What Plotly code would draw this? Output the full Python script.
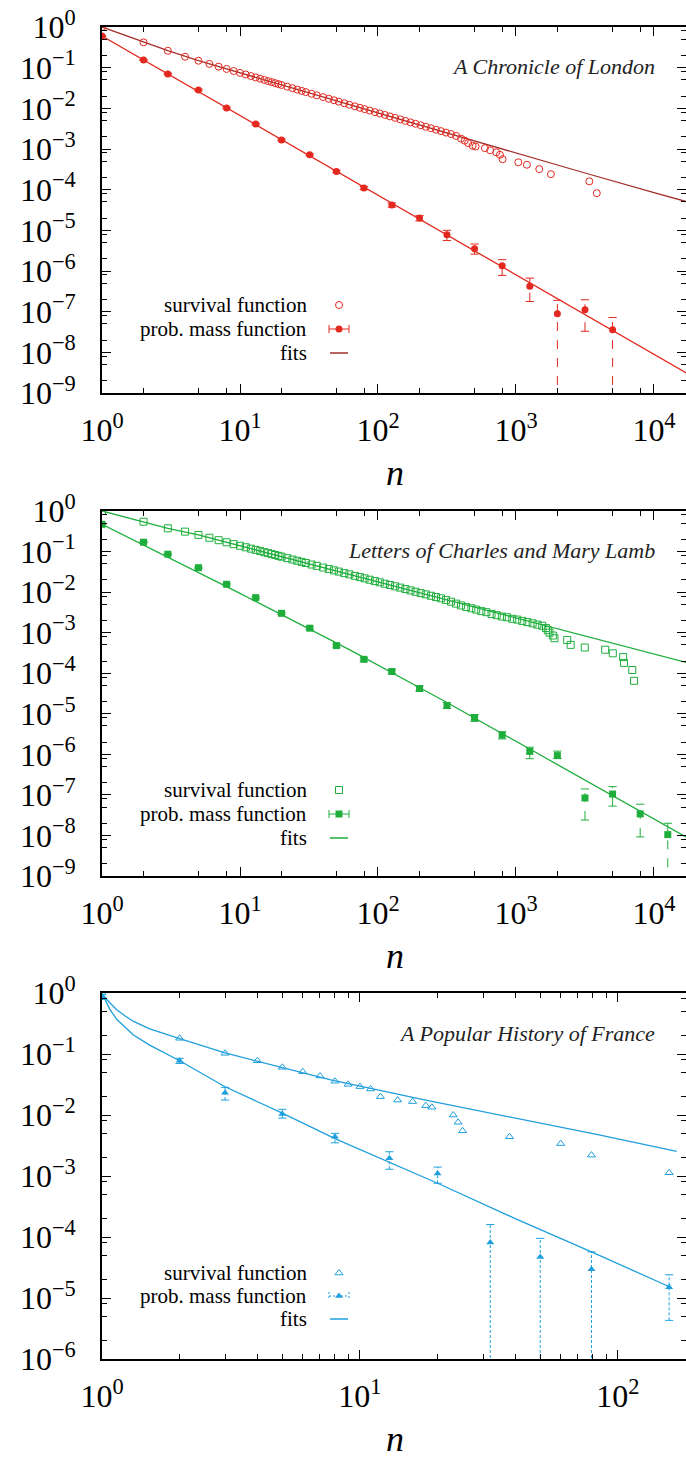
import plotly.graph_objects as go

W, H = 686, 1458

# ---------------- Panel 1 : A Chronicle of London ----------------
p1_surv_n = [1, 2, 3, 4, 5, 6, 7, 8, 9, 10, 11, 12, 13, 14, 15, 16, 17, 18, 19, 20,
             22, 24, 26, 28, 30, 33, 36, 40, 44, 48, 52, 57, 62, 68, 74, 80, 87, 95,
             103, 112, 122, 133, 145, 158, 172, 187, 204, 222, 242, 263, 286, 311,
             338, 368, 400, 425, 450, 485, 510, 595, 650, 720, 765, 800, 1040, 1200,
             1475, 1790, 3400, 3850]
p1_surv_s = [1.0, 0.42, 0.26, 0.186, 0.148, 0.1236, 0.106, 0.093, 0.0828, 0.0745,
             0.068, 0.0622, 0.0575, 0.0535, 0.0499, 0.0468, 0.0441, 0.0417, 0.0394,
             0.0375, 0.0341, 0.0313, 0.0289, 0.0269, 0.0251, 0.0228, 0.0209, 0.0189,
             0.0172, 0.0158, 0.0146, 0.0133, 0.01225, 0.0112, 0.0103, 0.00955, 0.0088,
             0.00807, 0.00746, 0.00689, 0.00633, 0.00582, 0.00535, 0.00491, 0.00452,
             0.00417, 0.00383, 0.00352, 0.00324, 0.00299, 0.00275, 0.00253, 0.00233,
             0.00210, 0.0018, 0.0016, 0.0014, 0.0012, 0.00115, 0.00105, 0.00093,
             0.00083, 0.00072, 0.00056, 0.00047, 0.00041, 0.00032, 0.00024, 0.00016,
             0.000082]
p1_pmf_n = [1, 2, 3, 5, 8, 13, 20, 32, 50, 79, 126, 200, 316, 501, 794, 1259, 1995,
            3162, 5012]
p1_pmf_p = [0.6, 0.155, 0.07, 0.0283, 0.0102, 0.0041, 0.00166, 7.2e-4, 2.8e-4, 1.1e-4,
            4.2e-5, 2.0e-5, 7.8e-6, 3.5e-6, 1.35e-6, 4.2e-7, 8.9e-8, 1.12e-7, 3.6e-8]
p1_pmf_lo = [0.59, 0.150, 0.067, 0.027, 0.0097, 0.0039, 0.00157, 6.8e-4, 2.6e-4, 1.0e-4,
             3.7e-5, 1.7e-5, 5.6e-6, 2.6e-6, 7.8e-7, 1.78e-7, 0, 3.3e-8, 0]
p1_pmf_hi = [0.61, 0.160, 0.073, 0.0296, 0.0107, 0.0043, 0.00175, 7.6e-4, 3.0e-4, 1.2e-4,
             4.7e-5, 2.3e-5, 1.0e-5, 4.6e-6, 1.9e-6, 6.7e-7, 1.9e-7, 1.96e-7, 7.2e-8]
p1_fit_surv_n = [1, 2, 3, 5, 10, 31.6, 100, 316, 1000, 3162, 10000, 20000]
p1_fit_surv_s = [1.0, 0.42, 0.263, 0.148, 0.0745, 0.0238, 0.00762, 0.00244, 7.8e-4,
                 2.57e-4, 8.5e-5, 4.4e-5]
p1_fit_pmf_n = [1, 10, 100, 1000, 10000, 20000]
p1_fit_pmf_p = [0.6, 6.65e-3, 7.35e-5, 8.1e-7, 8.95e-9, 2.3e-9]

# ---------------- Panel 2 : Letters of Charles and Mary Lamb ----------------
p2_surv_n = [1, 2, 3, 4, 5, 6, 7, 8, 9, 10, 11, 12, 13, 14, 15, 16, 17, 18, 19, 20,
             22, 24, 26, 28, 30, 33, 36, 40, 44, 48, 52, 57, 62, 68, 74, 80, 87, 95,
             103, 112, 122, 133, 145, 158, 172, 187, 204, 222, 242, 263, 286, 311,
             338, 368, 400, 435, 475, 515, 560, 610, 665, 725, 790, 860, 940, 1020,
             1110, 1210, 1320, 1430, 1550, 1650, 1700, 1750, 1850, 1900, 2350, 2490,
             3150, 4430, 5030, 5980, 6060, 6960, 7170]
p2_surv_s = [1.0, 0.545, 0.374, 0.31, 0.257, 0.219, 0.1905, 0.169, 0.1524, 0.1387,
             0.1276, 0.118, 0.1099, 0.1028, 0.0966, 0.0914, 0.0865, 0.0822, 0.0783,
             0.0748, 0.0689, 0.0637, 0.0593, 0.0555, 0.0522, 0.0479, 0.0444, 0.0404,
             0.0372, 0.0344, 0.032, 0.0294, 0.0274, 0.0252, 0.0234, 0.0218, 0.0202,
             0.0187, 0.0174, 0.0161, 0.015, 0.0139, 0.0129, 0.0119, 0.0110, 0.0102,
             0.00946, 0.00879, 0.00813, 0.00755, 0.00701, 0.0064, 0.0058, 0.0052,
             0.0047, 0.0043, 0.0040, 0.0037, 0.0034, 0.0032, 0.0029, 0.0027, 0.0025,
             0.0024, 0.0022, 0.0021, 0.00195, 0.00182, 0.00170, 0.00158, 0.00148,
             0.0013, 0.00115, 0.0010, 0.00085, 0.00073, 0.00066, 0.0005, 0.00043,
             0.00038, 0.00031, 0.00025, 0.00018, 0.00012, 0.000065]
p2_pmf_n = [1, 2, 3, 5, 8, 13, 20, 32, 50, 79, 126, 200, 316, 501, 794, 1259, 1995,
            3162, 5012, 7943, 12589]
p2_pmf_p = [0.47, 0.17, 0.086, 0.040, 0.0156, 0.0073, 0.003, 0.00129, 4.8e-4, 2.2e-4,
            1.1e-4, 4.2e-5, 1.6e-5, 8.0e-6, 3.0e-6, 1.18e-6, 9.3e-7, 8.4e-8, 1.05e-7,
            3.4e-8, 1.05e-8]
p2_pmf_lo = [0.46, 0.165, 0.083, 0.0385, 0.015, 0.0069, 0.00283, 1.2e-3, 4.4e-4, 2.0e-4,
             9.8e-5, 3.6e-5, 1.35e-5, 6.5e-6, 2.4e-6, 7.8e-7, 7.9e-7, 2.4e-8, 5.3e-8,
             9.2e-9, 0]
p2_pmf_hi = [0.48, 0.175, 0.089, 0.0415, 0.0162, 0.0077, 0.00318, 1.38e-3, 5.2e-4, 2.4e-4,
             1.22e-4, 4.8e-5, 1.9e-5, 9.6e-6, 3.6e-6, 1.5e-6, 1.2e-6, 1.4e-7, 1.6e-7,
             5.9e-8, 2.0e-8]
p2_fit_surv_n = [1, 2, 3, 5, 10, 100, 1000, 10000, 20000]
p2_fit_surv_s = [1.0, 0.546, 0.374, 0.257, 0.1387, 0.01786, 0.0023, 2.96e-4, 1.6e-4]
p2_fit_pmf_n = [1, 10, 63, 316, 1259, 3162, 20000]
p2_fit_pmf_p = [0.468, 9.3e-3, 3.7e-4, 1.9e-5, 1.35e-6, 2.3e-7, 6.8e-9]

# ---------------- Panel 3 : A Popular History of France ----------------
p3_surv_n = [1, 2, 3, 4, 5, 6, 7, 8, 9, 10, 11, 12, 14, 16, 18, 19, 23, 24, 25, 38, 60,
             79, 158]
p3_surv_s = [1.0, 0.181, 0.1026, 0.0776, 0.0605, 0.0513, 0.0436, 0.0358, 0.0318, 0.0292,
             0.0267, 0.020, 0.0176, 0.0166, 0.01425, 0.0134, 0.010, 0.0076, 0.0055,
             0.0044, 0.0034, 0.0022, 0.00113]
p3_pmf_n = [1, 2, 3, 5, 8, 13, 20, 32, 50, 79, 158]
p3_pmf_p = [0.82, 0.0776, 0.0232, 0.0104, 0.00441, 0.00195, 0.0011, 8.1e-5, 4.7e-5,
            2.95e-5, 1.5e-5]
p3_pmf_lo = [0.80, 0.070, 0.0176, 0.0089, 0.0035, 0.00129, 7.6e-4, 0, 0, 0, 4.3e-6]
p3_pmf_hi = [0.84, 0.085, 0.0284, 0.0124, 0.0050, 0.0025, 0.0014, 1.6e-4, 9.5e-5,
             5.7e-5, 2.4e-5]
p3_fit_surv_n = [1, 1.03, 1.07, 1.14, 1.23, 1.32, 1.53, 1.78, 2, 3, 5, 7.7, 17.6, 38,
                 82.7, 169]
p3_fit_surv_s = [1.0, 0.83, 0.7, 0.53, 0.42, 0.345, 0.258, 0.206, 0.178, 0.104, 0.0605,
                 0.0375, 0.0178, 0.0093, 0.0048, 0.00254]
p3_fit_pmf_n = [1, 1.03, 1.07, 1.14, 1.23, 1.32, 1.53, 1.78, 2, 3, 5, 8, 20, 40, 79, 160]
p3_fit_pmf_p = [1.0, 0.75, 0.55, 0.37, 0.27, 0.207, 0.14, 0.1, 0.0776, 0.029, 0.0107,
                0.0041, 7.6e-4, 2.0e-4, 5.7e-5, 1.5e-5]

titles = ["A Chronicle of London", "Letters of Charles and Mary Lamb",
          "A Popular History of France"]
legend_labels = ["survival function", "prob. mass function", "fits"]

# ---------------- styling / layout constants ----------------
RED, DRED = "#e3281f", "#a3302b"
GREEN = "#1fae3c"
BLUE = "#1f9fdc"
FONT = "Liberation Serif"

LEFT_PX = 102
panels_px = [(27, 393), (511, 876), (993, 1359)]   # (top, bottom) pixel rows
xr = [[0, 4.232], [0, 4.232], [0, 2.264]]
yr = [[-9, 0], [-9, 0], [-6, 0]]


def dec_label(k):
    s = str(k) if k >= 0 else "\u2212" + str(-k)
    return "10<sup>" + s + "</sup>"


fig = go.Figure()


def add_panel(i, surv_n, surv_s, pmf_n, pmf_p, lo, hi, fs_n, fs_s, fp_n, fp_p,
              col, fitcol_s, sym_s, sym_p, dash_err, capd):
    xa = "x" if i == 0 else "x%d" % (i + 1)
    ya = "y" if i == 0 else "y%d" % (i + 1)
    fig.add_trace(go.Scatter(x=fs_n, y=fs_s, mode="lines", line=dict(color=fitcol_s, width=1.3),
                             xaxis=xa, yaxis=ya, showlegend=False, hoverinfo="skip"))
    fig.add_trace(go.Scatter(x=fp_n, y=fp_p, mode="lines", line=dict(color=col, width=1.3),
                             xaxis=xa, yaxis=ya, showlegend=False, hoverinfo="skip"))
    ex, ey, cx, cy = [], [], [], []
    f = 10 ** capd
    for n, l, h in zip(pmf_n, lo, hi):
        lv = l if l > 0 else 1e-15
        ex += [n, n, None]
        ey += [lv, h, None]
        cx += [n / f, n * f, None]
        cy += [h, h, None]
        if l > 0:
            cx += [n / f, n * f, None]
            cy += [l, l, None]
    fig.add_trace(go.Scatter(x=ex, y=ey, mode="lines", line=dict(color=col, width=1, dash=dash_err),
                             xaxis=xa, yaxis=ya, showlegend=False, hoverinfo="skip",
                             connectgaps=False))
    fig.add_trace(go.Scatter(x=cx, y=cy, mode="lines", line=dict(color=col, width=1),
                             xaxis=xa, yaxis=ya, showlegend=False, hoverinfo="skip",
                             connectgaps=False))
    fig.add_trace(go.Scatter(x=surv_n, y=surv_s, mode="markers",
                             marker=dict(symbol=sym_s, size=7, color=col, line=dict(width=1, color=col)),
                             xaxis=xa, yaxis=ya, showlegend=False))
    fig.add_trace(go.Scatter(x=pmf_n, y=pmf_p, mode="markers",
                             marker=dict(symbol=sym_p, size=7, color=col),
                             xaxis=xa, yaxis=ya, showlegend=False))


add_panel(0, p1_surv_n, p1_surv_s, p1_pmf_n, p1_pmf_p, p1_pmf_lo, p1_pmf_hi,
          p1_fit_surv_n, p1_fit_surv_s, p1_fit_pmf_n, p1_fit_pmf_p,
          RED, DRED, "circle-open", "circle", "dash", 0.03)
add_panel(1, p2_surv_n, p2_surv_s, p2_pmf_n, p2_pmf_p, p2_pmf_lo, p2_pmf_hi,
          p2_fit_surv_n, p2_fit_surv_s, p2_fit_pmf_n, p2_fit_pmf_p,
          GREEN, GREEN, "square-open", "square", "dash", 0.03)
add_panel(2, p3_surv_n, p3_surv_s, p3_pmf_n, p3_pmf_p, p3_pmf_lo, p3_pmf_hi,
          p3_fit_surv_n, p3_fit_surv_s, p3_fit_pmf_n, p3_fit_pmf_p,
          BLUE, BLUE, "triangle-up-open", "triangle-up", "3px,2px", 0.016)

layout = dict(width=W, height=H, margin=dict(l=0, r=0, t=0, b=0, autoexpand=False),
              paper_bgcolor="white", plot_bgcolor="rgba(0,0,0,0)", showlegend=False)

for i in range(3):
    top, bot = panels_px[i]
    xk = "xaxis" if i == 0 else "xaxis%d" % (i + 1)
    yk = "yaxis" if i == 0 else "yaxis%d" % (i + 1)
    ylab = "y" if i == 0 else "y%d" % (i + 1)
    xlab = "x" if i == 0 else "x%d" % (i + 1)
    nx = 5 if i < 2 else 3
    xmaj = [10 ** k for k in range(nx)]
    if i < 2:
        xmin = [m * 10 ** k for k in range(nx) for m in (2, 5, 8)]
    else:
        xmin = [m * 10 ** k for k in range(nx) for m in range(2, 10)]
    ny = -yr[i][0]
    ymaj = [10.0 ** (-k) for k in range(ny + 1)]
    ymin = [m * 10.0 ** (-k) for k in range(1, ny + 1) for m in (2, 5, 8)]
    layout[xk] = dict(type="log", range=xr[i], domain=[LEFT_PX / W, 1], anchor=ylab,
                      automargin=False,
                      showline=True, linecolor="black", linewidth=1.6, mirror="ticks",
                      ticks="inside", ticklen=9, tickwidth=1, tickcolor="black",
                      tickmode="array", tickvals=xmaj, ticktext=[dec_label(k) for k in range(nx)],
                      tickfont=dict(family=FONT, size=32, color="black"),
                      ticklabelstandoff=8,
                      minor=dict(tickmode="array", tickvals=xmin, ticks="inside", ticklen=5,
                                 tickwidth=1, tickcolor="black", showgrid=False),
                      showgrid=False, zeroline=False)
    layout[yk] = dict(type="log", range=yr[i], domain=[1 - bot / H, 1 - top / H], anchor=xlab,
                      automargin=False,
                      showline=True, linecolor="black", linewidth=1.6, mirror="ticks",
                      ticks="inside", ticklen=9, tickwidth=1, tickcolor="black",
                      tickmode="array", tickvals=ymaj, ticktext=[dec_label(-k) for k in range(ny + 1)],
                      tickfont=dict(family=FONT, size=32, color="black"),
                      ticklabelstandoff=18,
                      minor=dict(tickmode="array", tickvals=ymin, ticks="inside", ticklen=5,
                                 tickwidth=1, tickcolor="black", showgrid=False),
                      showgrid=False, zeroline=False)

layout["xaxis4"] = dict(range=[0, W], domain=[0, 1], anchor="y4", visible=False,
                        fixedrange=True, automargin=False)
layout["yaxis4"] = dict(range=[H, 0], domain=[0, 1], anchor="x4", visible=False,
                        fixedrange=True, automargin=False)
fig.update_layout(**layout)

annotations = []
leg_rows = [(305, 329, 353), (790, 814, 838), (1273, 1296, 1319)]
title_y = [67, 550, 1033]
colors = [(RED, DRED), (GREEN, GREEN), (BLUE, BLUE)]
syms = [("circle-open", "circle"), ("square-open", "square"), ("triangle-up-open", "triangle-up")]
GX = 339
for i in range(3):
    top, bot = panels_px[i]
    annotations.append(dict(x=657 / W, y=1 - title_y[i] / H, xref="paper", yref="paper",
                            text="<i>" + titles[i] + "</i>", showarrow=False,
                            xanchor="right", yanchor="middle",
                            font=dict(family=FONT, size=22, color="#222")))
    annotations.append(dict(x=395 / W, y=1 - (bot + 80) / H, xref="paper", yref="paper",
                            text="<i>n</i>", showarrow=False, xanchor="center", yanchor="middle",
                            font=dict(family=FONT, size=36, color="black")))
    for lab, ry in zip(legend_labels, leg_rows[i]):
        annotations.append(dict(x=309 / W, y=1 - ry / H, xref="paper", yref="paper",
                                text=lab, showarrow=False, xanchor="right", yanchor="middle",
                                font=dict(family=FONT, size=21, color="black")))
    col, fcol = colors[i]
    r1, r2, r3 = leg_rows[i]
    fig.add_trace(go.Scatter(x=[GX], y=[r1], mode="markers", xaxis="x4", yaxis="y4",
                             marker=dict(symbol=syms[i][0], size=7, color=col, line=dict(width=1, color=col)),
                             showlegend=False, hoverinfo="skip"))
    fig.add_trace(go.Scatter(x=[GX - 10, GX + 10, None, GX - 10, GX - 10, None, GX + 10, GX + 10],
                             y=[r2, r2, None, r2 - 4, r2 + 4, None, r2 - 4, r2 + 4],
                             mode="lines", xaxis="x4", yaxis="y4",
                             line=dict(color=col, width=1, dash="solid" if i < 2 else "2px,2px"),
                             showlegend=False, hoverinfo="skip"))
    fig.add_trace(go.Scatter(x=[GX], y=[r2], mode="markers", xaxis="x4", yaxis="y4",
                             marker=dict(symbol=syms[i][1], size=7, color=col),
                             showlegend=False, hoverinfo="skip"))
    fig.add_trace(go.Scatter(x=[GX - 9, GX + 9], y=[r3, r3], mode="lines", xaxis="x4", yaxis="y4",
                             line=dict(color=col if i else fcol, width=1.5), showlegend=False,
                             hoverinfo="skip"))

fig.update_layout(annotations=annotations)
fig.write_html("out.html")
